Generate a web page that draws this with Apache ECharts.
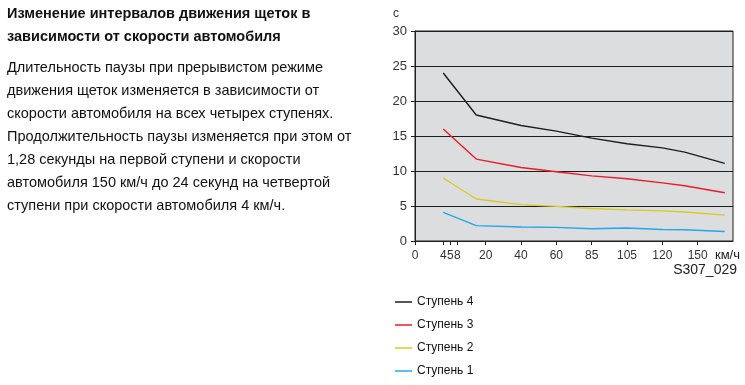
<!DOCTYPE html>
<html><head><meta charset="utf-8">
<script src="https://cdn.jsdelivr.net/npm/echarts@6/dist/echarts.min.js"></script>
<style>html,body{margin:0;padding:0;background:#fff}#c{width:745px;height:385px}</style>
</head><body><div id="c"></div>
<script>
// Axis scale: these speeds sit at equal spacing on the original chart's x axis
const xScaleBreaks = [0, 5, 20, 40, 60, 85, 105, 120, 150];
const xTickLabels = [0, 4, 5, 8, 20, 40, 60, 85, 105, 120, 150];
const yTicks = [0, 5, 10, 15, 20, 25, 30];

const speeds = [4, 16, 40, 60, 85, 105, 120, 139, 173];
const stage4 = [24, 18, 16.5, 15.7, 14.7, 13.9, 13.3, 12.7, 11.1];
const stage3 = [16, 11.7, 10.5, 9.9, 9.3, 8.9, 8.3, 7.9, 6.9];
const stage2 = [9, 6, 5.2, 4.95, 4.65, 4.45, 4.3, 4.15, 3.7];
const stage1 = [4.1, 2.2, 2.0, 1.95, 1.75, 1.85, 1.65, 1.6, 1.35];

const seriesNames = ['Ступень 4', 'Ступень 3', 'Ступень 2', 'Ступень 1'];
const titleLines = ['Изменение интервалов движения щеток в', 'зависимости от скорости автомобиля'];
const bodyLines = [
  'Длительность паузы при прерывистом режиме',
  'движения щеток изменяется в зависимости от',
  'скорости автомобиля на всех четырех ступенях.',
  'Продолжительность паузы изменяется при этом от',
  '1,28 секунды на первой ступени и скорости',
  'автомобиля 150 км/ч до 24 секунд на четвертой',
  'ступени при скорости автомобиля 4 км/ч.'
];

function speedToPos(v) {
  const b = xScaleBreaks;
  for (let i = 0; i < b.length - 1; i++) {
    if (v <= b[i + 1]) return i + (v - b[i]) / (b[i + 1] - b[i]);
  }
  const n = b.length - 1;
  return n + (v - b[n]) / (b[n] - b[n - 1]);
}
function posToSpeed(p) {
  const b = xScaleBreaks, n = b.length - 1;
  if (p >= n) return b[n] + (p - n) * (b[n] - b[n - 1]);
  const i = Math.floor(p);
  return b[i] + (p - i) * (b[i + 1] - b[i]);
}

const colors = ['#1e1e1e', '#ec1c24', '#d8cb1e', '#22a6ee'];
const allData = [stage4, stage3, stage2, stage1];
const font = 'Liberation Sans, Arial, sans-serif';

const chart = echarts.init(document.getElementById('c'), null, {renderer: 'canvas'});
chart.setOption({
  animation: false,
  color: colors,
  grid: {left: 415, right: 12, top: 31, bottom: 144, show: true, backgroundColor: '#dcdddf', borderColor: '#1e1e1e', borderWidth: 1},
  xAxis: {
    type: 'value', min: 0, max: 9,
    axisLine: {lineStyle: {color: '#1e1e1e'}},
    axisTick: {length: 4, lineStyle: {color: '#1e1e1e'}, customValues: xTickLabels.map(speedToPos)},
    axisLabel: {
      customValues: xTickLabels.map(speedToPos),
      formatter: v => String(Math.round(posToSpeed(v))),
      color: '#333', fontSize: 12, fontFamily: font, margin: 9
    },
    splitLine: {show: false}
  },
  yAxis: {
    type: 'value', min: 0, max: 30, interval: 5,
    axisLine: {show: true, lineStyle: {color: '#1e1e1e'}},
    axisTick: {show: true, length: 4, lineStyle: {color: '#1e1e1e'}},
    axisLabel: {color: '#333', fontSize: 13, fontFamily: font, margin: 8},
    splitLine: {show: true, lineStyle: {color: '#1e1e1e', width: 1}}
  },
  legend: {
    orient: 'vertical', left: 395, top: 295, height: 88, padding: 0,
    itemGap: 9, itemWidth: 17, itemHeight: 1.5,
    icon: 'rect',
    data: seriesNames,
    textStyle: {color: '#111', fontSize: 12, fontFamily: font, lineHeight: 14}
  },
  series: seriesNames.map((name, k) => ({
    name, type: 'line', symbol: 'none', silent: true,
    lineStyle: {width: 1.4, color: colors[k]},
    data: speeds.map((s, i) => [speedToPos(s), allData[k][i]])
  })),
  graphic: [
    {type: 'text', left: 7, top: 2.5, style: {text: titleLines.join('\n'), font: 'bold 14.5px ' + font, fill: '#111', lineHeight: 23}},
    {type: 'text', left: 7, top: 56.5, style: {text: bodyLines.join('\n'), font: '14.5px ' + font, fill: '#111', lineHeight: 23}},
    {type: 'text', left: 393, top: 8, style: {text: 'с', font: '12px ' + font, fill: '#333'}},
    {type: 'text', right: 5, top: 249, style: {text: 'км/ч', font: '13px ' + font, fill: '#222'}},
    {type: 'text', right: 8, top: 263, style: {text: 'S307_029', font: '14px ' + font, fill: '#222'}}
  ]
});
</script></body></html>
